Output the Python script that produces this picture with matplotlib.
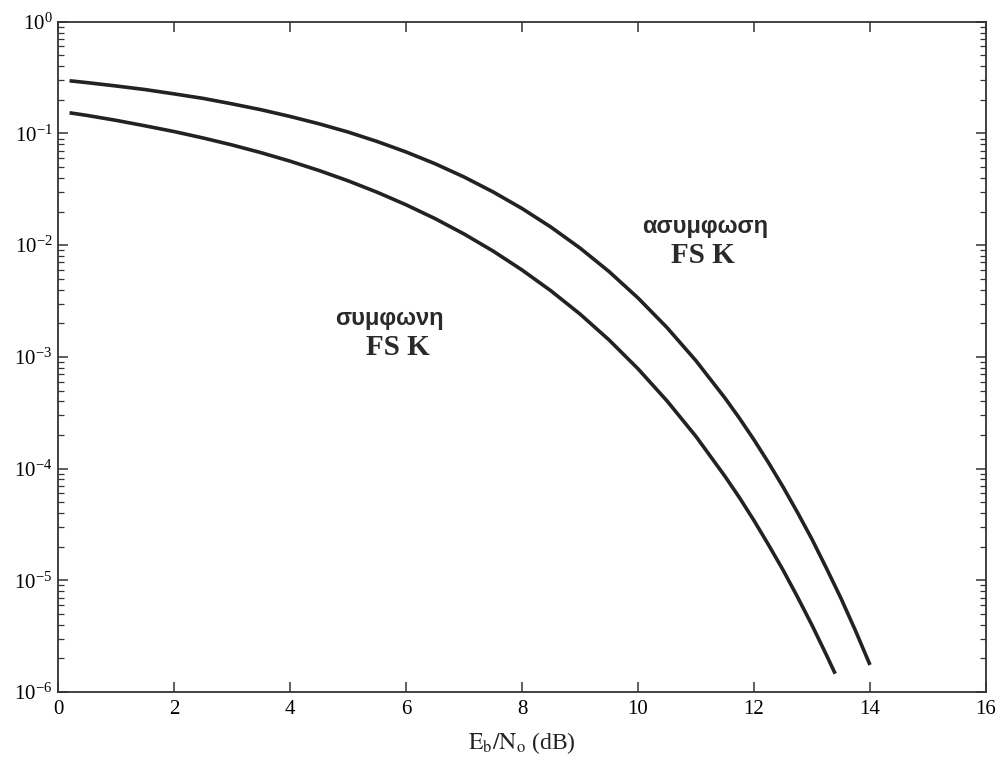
import matplotlib
matplotlib.use("Agg")
from matplotlib import pyplot as plt
from matplotlib.ticker import LogLocator, FixedLocator

# Eb/No (dB)
snr_noncoh = [0.2, 0.5, 1.0, 1.5, 2.0, 2.5, 3.0, 3.5, 4.0, 4.5, 5.0, 5.5, 6.0, 6.5, 7.0,
              7.5, 8.0, 8.5, 9.0, 9.5, 10.0, 10.5, 11.0, 11.5, 11.75, 12.0, 12.25, 12.5,
              12.75, 13.0, 13.25, 13.5, 13.75, 14.0]
ber_noncoh = [0.296, 0.285, 0.266, 0.247, 0.226, 0.206, 0.184, 0.163, 0.142, 0.122, 0.103,
              0.0848, 0.0683, 0.0536, 0.0408, 0.0300, 0.0213, 0.0145, 0.00943, 0.00581,
              0.00337, 0.00183, 9.23e-4, 4.28e-4, 2.82e-4, 1.81e-4, 1.13e-4, 6.87e-5,
              4.05e-5, 2.33e-5, 1.28e-5, 6.9e-6, 3.54e-6, 1.75e-6]

snr_coh = [0.2, 0.5, 1.0, 1.5, 2.0, 2.5, 3.0, 3.5, 4.0, 4.5, 5.0, 5.5, 6.0, 6.5, 7.0,
           7.5, 8.0, 8.5, 9.0, 9.5, 10.0, 10.5, 11.0, 11.5, 11.75, 12.0, 12.25, 12.5,
           12.75, 13.0, 13.25, 13.4]
ber_coh = [0.153, 0.145, 0.131, 0.117, 0.104, 0.0911, 0.0789, 0.0673, 0.0565, 0.0466,
           0.0377, 0.0298, 0.0230, 0.0173, 0.0126, 0.00887, 0.00600, 0.00390, 0.00242,
           0.00142, 7.83e-4, 4.04e-4, 1.94e-4, 8.53e-5, 5.49e-5, 3.43e-5, 2.08e-5,
           1.24e-5, 7.1e-6, 3.97e-6, 2.14e-6, 1.46e-6]

x_ticks = [0, 2, 4, 6, 8, 10, 12, 14, 16]
y_ticks = [1e-6, 1e-5, 1e-4, 1e-3, 1e-2, 1e-1, 1]

plt.rcParams['font.family'] = ['Liberation Serif', 'DejaVu Serif']
plt.rcParams['mathtext.fontset'] = 'stix'

fig = plt.figure(figsize=(9.99, 7.75), dpi=100)
ax = fig.add_axes([0.058, 0.107, 0.929, 0.865])

ax.plot(snr_noncoh, ber_noncoh, color='#222222', linewidth=2.6, solid_capstyle='butt')
ax.plot(snr_coh, ber_coh, color='#222222', linewidth=2.6, solid_capstyle='butt')

ax.set_yscale('log')
ax.set_xlim(0, 16)
ax.set_ylim(1e-6, 1)
ax.xaxis.set_major_locator(FixedLocator(x_ticks))
ax.yaxis.set_major_locator(FixedLocator(y_ticks))
ax.yaxis.set_minor_locator(LogLocator(base=10, subs=range(2, 10), numticks=20))
ax.tick_params(which='both', direction='in', top=True, right=True, color='#333333')
ax.tick_params(which='major', length=7, width=1.1, labelsize=15, pad=6)
ax.tick_params(which='minor', length=4, width=0.9)
ax.tick_params(axis='y', which='major', pad=4)
for s in ax.spines.values():
    s.set_linewidth(1.3)
    s.set_color('#333333')

ax.set_xlabel(r'$\mathrm{E_b/N_o}$ (dB)', fontsize=17, labelpad=8, color='#222222')

# curve labels
ax.text(5.71, 10**-2.66, 'συμφωνη', family=['Liberation Sans', 'DejaVu Sans'],
        fontsize=17, fontweight='bold', ha='center', va='center', color='#2a2a2a')
ax.text(5.86, 10**-2.92, 'FS K', fontsize=21, fontweight='bold',
        ha='center', va='center', color='#2a2a2a')
ax.text(11.16, 10**-1.83, 'ασυμφωση', family=['Liberation Sans', 'DejaVu Sans'],
        fontsize=17, fontweight='bold', ha='center', va='center', color='#2a2a2a')
ax.text(11.12, 10**-2.09, 'FS K', fontsize=21, fontweight='bold',
        ha='center', va='center', color='#2a2a2a')

fig.savefig('out.png', dpi=100)
